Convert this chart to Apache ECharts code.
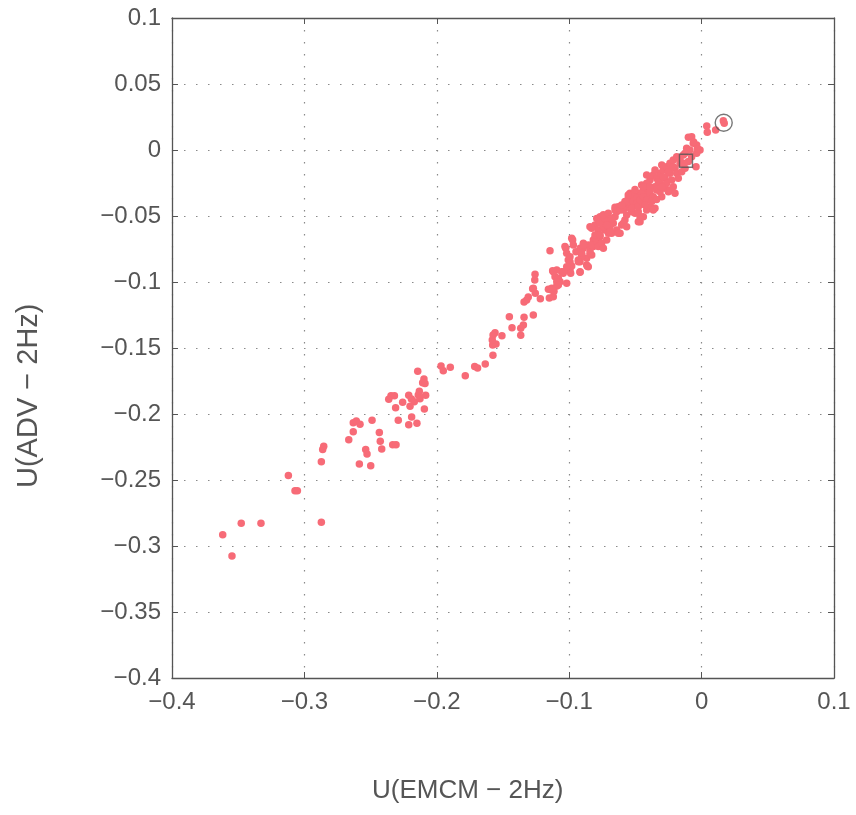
<!DOCTYPE html>
<html>
<head>
<meta charset="utf-8">
<title>U(ADV - 2Hz) vs U(EMCM - 2Hz)</title>
<script src="https://cdn.jsdelivr.net/npm/echarts@6/dist/echarts.min.js"></script>
<style>
  html, body { margin: 0; padding: 0; background: #fff; }
  #chart { width: 856px; height: 815px; }
</style>
</head>
<body>
<div id="chart"></div>
<script>
// [U(EMCM - 2Hz), U(ADV - 2Hz)] pairs
const tailPoints = [
  [-0.3617, -0.2914], [-0.3547, -0.3076], [-0.3477, -0.2828], [-0.3328, -0.2828],
  [-0.3121, -0.2465], [-0.3071, -0.2581], [-0.3053, -0.2581], [-0.2872, -0.2821],
  [-0.2872, -0.2361], [-0.2862, -0.2268], [-0.2854, -0.2245], [-0.2665, -0.2195],
  [-0.2631, -0.2134], [-0.2631, -0.2066], [-0.2608, -0.2053], [-0.2580, -0.2078],
  [-0.2489, -0.2048], [-0.2585, -0.2379], [-0.2499, -0.2392], [-0.2537, -0.2268],
  [-0.2527, -0.2303], [-0.2434, -0.2141], [-0.2427, -0.2207], [-0.2416, -0.2265],
  [-0.2333, -0.2233], [-0.2308, -0.2233], [-0.2363, -0.1889], [-0.2346, -0.1861],
  [-0.2320, -0.1861], [-0.2311, -0.1952], [-0.2258, -0.1911], [-0.2291, -0.2048],
  [-0.2212, -0.1858], [-0.2192, -0.1886], [-0.2170, -0.1907], [-0.2202, -0.1942],
  [-0.2190, -0.2023], [-0.2212, -0.2081], [-0.2150, -0.2070], [-0.2140, -0.1856],
  [-0.2132, -0.1828], [-0.2127, -0.1884], [-0.2107, -0.1763], [-0.2097, -0.1735],
  [-0.2089, -0.1768], [-0.2144, -0.1677], [-0.2084, -0.1858], [-0.2094, -0.1962],
  [-0.1968, -0.1636], [-0.1951, -0.1672]
]

const midPoints = [
  [-0.1898, -0.1646], [-0.1785, -0.1710], [-0.1714, -0.1641], [-0.1692, -0.1652],
  [-0.1634, -0.1621], [-0.1576, -0.1555], [-0.1578, -0.1477], [-0.1553, -0.1470],
  [-0.1581, -0.1439], [-0.1560, -0.1384], [-0.1575, -0.1402], [-0.1508, -0.1407],
  [-0.1432, -0.1346], [-0.1452, -0.1263], [-0.1366, -0.1404], [-0.1366, -0.1351],
  [-0.1346, -0.1326], [-0.1341, -0.1267], [-0.1271, -0.1250], [-0.1341, -0.1152],
  [-0.1321, -0.1136], [-0.1309, -0.1114], [-0.1276, -0.1051], [-0.1256, -0.1086],
  [-0.1260, -0.0985], [-0.1258, -0.0942], [-0.1218, -0.1126], [-0.1150, -0.1121],
  [-0.1145, -0.0763], [-0.1157, -0.1055], [-0.1132, -0.1048], [-0.1115, -0.1070],
  [-0.1094, -0.1030], [-0.1271, -0.1048], [-0.1133, -0.1061], [-0.1120, -0.1111],
  [-0.1125, -0.0914], [-0.1094, -0.0909], [-0.1057, -0.0922], [-0.1107, -0.0960],
  [-0.1082, -0.0972], [-0.1069, -0.0998], [-0.1045, -0.0934], [-0.0994, -0.0909],
  [-0.0989, -0.0934], [-0.1019, -0.1010], [-0.1120, -0.0922], [-0.1094, -0.0998],
  [-0.1082, -0.1023], [-0.1044, -0.0922]
]

const bandPoints = [
  [-0.1026, -0.0745], [-0.1019, -0.0783], [-0.1007, -0.0833], [-0.0974, -0.0682],
  [-0.0969, -0.0720], [-0.0981, -0.0879], [-0.0994, -0.0846], [-0.1019, -0.0884],
  [-0.1032, -0.0732], [-0.0994, -0.0808], [-0.0931, -0.0833], [-0.0918, -0.0922],
  [-0.0868, -0.0871], [-0.0918, -0.0927], [-0.0863, -0.0881], [-0.0949, -0.0770],
  [-0.0918, -0.0745], [-0.0906, -0.0795], [-0.0918, -0.0846], [-0.0868, -0.0821],
  [-0.0893, -0.0707], [-0.0856, -0.0720], [-0.0843, -0.0758], [-0.0830, -0.0795],
  [-0.0818, -0.0732], [-0.0894, -0.0745], [-0.0818, -0.0682], [-0.0843, -0.0783],
  [-0.0906, -0.0808], [-0.0931, -0.0846], [-0.0856, -0.0884], [-0.0981, -0.0669],
  [-0.0893, -0.0720], [-0.0906, -0.0783], [-0.0830, -0.0720],
  [-0.0843, -0.0581], [-0.0805, -0.0568], [-0.0780, -0.0606], [-0.0793, -0.0644],
  [-0.0792, -0.0695], [-0.0780, -0.0732], [-0.0805, -0.0669], [-0.0767, -0.0657],
  [-0.0755, -0.0707], [-0.0742, -0.0745], [-0.0717, -0.0682], [-0.0704, -0.0631],
  [-0.0729, -0.0606], [-0.0742, -0.0581], [-0.0755, -0.0530], [-0.0767, -0.0505],
  [-0.0717, -0.0530], [-0.0704, -0.0555], [-0.0692, -0.0581], [-0.0667, -0.0555],
  [-0.0654, -0.0505], [-0.0641, -0.0467], [-0.0629, -0.0429], [-0.0641, -0.0606],
  [-0.0679, -0.0631], [-0.0616, -0.0631], [-0.0830, -0.0593], [-0.0792, -0.0518],
  [-0.0767, -0.0555], [-0.0730, -0.0518], [-0.0805, -0.0644], [-0.0692, -0.0619],
  [-0.0629, -0.0631], [-0.0717, -0.0568], [-0.0654, -0.0455], [-0.0616, -0.0429],
  [-0.0767, -0.0644], [-0.0742, -0.0490], [-0.0705, -0.0480], [-0.0680, -0.0520]
]

const corePoints = [
  [-0.0604, -0.0568], [-0.0579, -0.0530], [-0.0566, -0.0492], [-0.0591, -0.0455],
  [-0.0579, -0.0417], [-0.0554, -0.0429], [-0.0541, -0.0379], [-0.0516, -0.0404],
  [-0.0491, -0.0354], [-0.0465, -0.0328], [-0.0440, -0.0303], [-0.0415, -0.0278],
  [-0.0528, -0.0467], [-0.0503, -0.0480], [-0.0478, -0.0467], [-0.0465, -0.0543],
  [-0.0440, -0.0505], [-0.0415, -0.0455], [-0.0415, -0.0379], [-0.0465, -0.0404],
  [-0.0427, -0.0328], [-0.0403, -0.0341], [-0.0541, -0.0328], [-0.0516, -0.0341],
  [-0.0554, -0.0366], [-0.0591, -0.0555], [-0.0566, -0.0581], [-0.0465, -0.0505],
  [-0.0478, -0.0543], [-0.0352, -0.0442], [-0.0654, -0.0434], [-0.0616, -0.0455],
  [-0.0591, -0.0429], [-0.0566, -0.0404], [-0.0541, -0.0442], [-0.0516, -0.0391],
  [-0.0554, -0.0341], [-0.0503, -0.0300], [-0.0490, -0.0366], [-0.0490, -0.0404],
  [-0.0579, -0.0391], [-0.0604, -0.0417], [-0.0465, -0.0379], [-0.0453, -0.0265],
  [-0.0453, -0.0328], [-0.0528, -0.0440], [-0.0478, -0.0430], [-0.0440, -0.0410],
  [-0.0390, -0.0227], [-0.0365, -0.0189], [-0.0339, -0.0214], [-0.0314, -0.0177],
  [-0.0289, -0.0152], [-0.0276, -0.0214], [-0.0264, -0.0127], [-0.0239, -0.0101],
  [-0.0239, -0.0177], [-0.0314, -0.0252], [-0.0339, -0.0303], [-0.0390, -0.0316],
  [-0.0440, -0.0354], [-0.0365, -0.0354], [-0.0264, -0.0252], [-0.0226, -0.0227],
  [-0.0415, -0.0379], [-0.0390, -0.0429], [-0.0365, -0.0455], [-0.0301, -0.0354],
  [-0.0251, -0.0316], [-0.0352, -0.0278], [-0.0314, -0.0316], [-0.0276, -0.0290],
  [-0.0415, -0.0252], [-0.0440, -0.0278], [-0.0428, -0.0417], [-0.0415, -0.0189],
  [-0.0352, -0.0152], [-0.0390, -0.0278], [-0.0327, -0.0240], [-0.0251, -0.0164],
  [-0.0289, -0.0202], [-0.0239, -0.0303], [-0.0214, -0.0278], [-0.0201, -0.0328],
  [-0.0301, -0.0114], [-0.0377, -0.0390], [-0.0340, -0.0375], [-0.0300, -0.0280]
]

const tipPoints = [
  [-0.0214, -0.0076], [-0.0188, -0.0051], [-0.0163, -0.0101], [-0.0201, -0.0139],
  [-0.0188, -0.0177], [-0.0150, -0.0164], [-0.0125, -0.0139], [-0.0176, -0.0214],
  [-0.0138, -0.0038], [-0.0113, 0.0013], [-0.0100, 0.0096], [-0.0075, 0.0101],
  [-0.0037, 0.0038], [-0.0063, 0.0051], [-0.0012, 0.0000], [-0.0037, -0.0025],
  [-0.0088, 0.0000], [-0.0214, -0.0126], [-0.0163, -0.0076], [-0.0125, -0.0025],
  [-0.0100, -0.0088], [-0.0075, -0.0051], [-0.0138, -0.0101], [-0.0042, -0.0127],
  [-0.0060, 0.0060], [-0.0030, 0.0010], [0.0039, 0.0182], [0.0043, 0.0134],
  [0.0106, 0.0152], [0.0164, 0.0222], [0.0171, 0.0202]
]

const circledPoint = [[0.0167, 0.0207]]
const boxedPoint = [[-0.0118, -0.0081]]

const axisMin = -0.4
const axisMax = 0.1
const xInterval = 0.1
const yInterval = 0.05

const axisGray = '#555'
const dotColor = '#f76b77'

function tickText(v) {
  const n = parseFloat(v.toFixed(2))
  return String(n).replace('-', '\u2212')
}

const chart = echarts.init(document.getElementById('chart'))

const baseAxis = {
  type: 'value',
  min: axisMin,
  max: axisMax,
  axisLine: { show: true, onZero: false, lineStyle: { color: axisGray, width: 1.3 } },
  axisTick: { show: true, inside: true, length: 6, lineStyle: { color: axisGray } },
  axisLabel: { show: false },
  splitLine: { show: false }
}

const gridDots = { show: true, lineStyle: { color: '#8a8a8a', type: [1.5, 10.5], width: 1.2 } }

const option = {
  animation: false,
  backgroundColor: '#fff',
  grid: { left: 172, right: 22, top: 18, bottom: 137 },
  xAxis: [
    Object.assign({}, baseAxis, {
      position: 'bottom',
      interval: xInterval,
      axisLabel: {
        show: true,
        margin: 12,
        color: axisGray,
        fontFamily: 'Liberation Sans',
        fontSize: 24,
        formatter: tickText
      },
      splitLine: gridDots
    }),
    Object.assign({}, baseAxis, { position: 'top', interval: xInterval })
  ],
  yAxis: [
    Object.assign({}, baseAxis, {
      position: 'left',
      interval: yInterval,
      axisLabel: {
        show: true,
        margin: 11,
        color: axisGray,
        fontFamily: 'Liberation Sans',
        fontSize: 24,
        formatter: tickText
      },
      splitLine: gridDots
    }),
    Object.assign({}, baseAxis, { position: 'right', interval: yInterval })
  ],
  graphic: [
    {
      type: 'text',
      left: 372,
      top: 778,
      style: {
        text: 'U(EMCM \u2212 2Hz)',
        fill: axisGray,
        font: '26px "Liberation Sans"'
      }
    },
    {
      type: 'text',
      x: 14,
      y: 488,
      rotation: Math.PI / 2,
      style: {
        text: 'U(ADV \u2212 2Hz)',
        fill: axisGray,
        font: '29px "Liberation Sans"'
      }
    }
  ],
  series: [
    {
      type: 'scatter',
      symbolSize: 7.5,
      itemStyle: { color: dotColor, opacity: 1 },
      data: tailPoints.concat(midPoints, bandPoints, corePoints, tipPoints)
    },
    {
      type: 'scatter',
      symbol: 'circle',
      symbolSize: 17,
      itemStyle: { color: 'none', borderColor: '#555', borderWidth: 1.4 },
      data: circledPoint,
      z: 3
    },
    {
      type: 'scatter',
      symbol: 'rect',
      symbolSize: 13,
      itemStyle: { color: 'none', borderColor: '#555', borderWidth: 1.4 },
      data: boxedPoint,
      z: 3
    }
  ]
}

chart.setOption(option)
</script>
</body>
</html>
